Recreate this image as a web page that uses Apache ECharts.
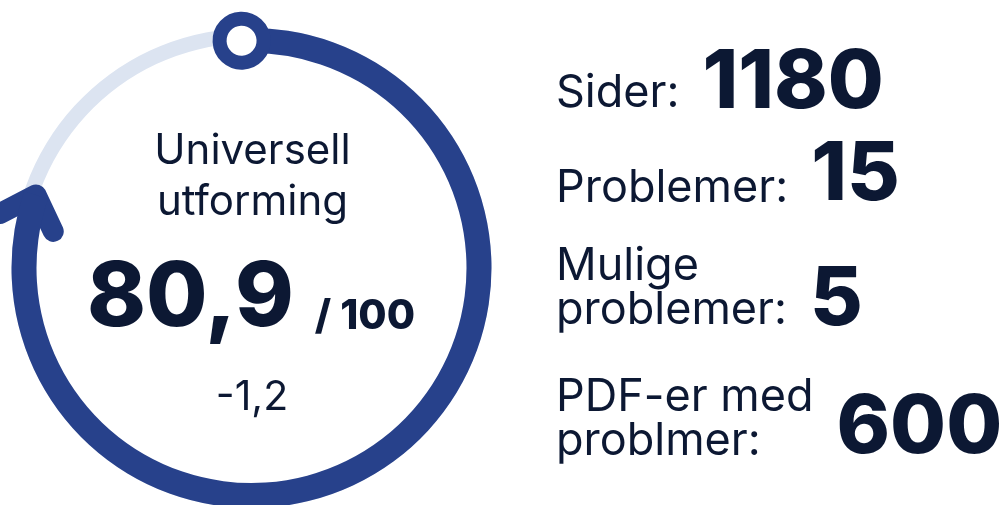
<!DOCTYPE html>
<html><head><meta charset="utf-8">
<script src="https://cdn.jsdelivr.net/npm/echarts@6/dist/echarts.min.js"></script>
<style>html,body{margin:0;padding:0;background:#fff}#c{width:1002px;height:505px}</style>
</head><body><div id="c"></div>
<script>
// ---- data ----
const scoreTitle = ['Universell', 'utforming'];
const scoreValue = [80.9];
const scoreMin = [0];
const scoreMax = [100];
const scoreChange = [-1.2];
const statLabels = ['Sider:', 'Problemer:', 'Mulige\nproblemer:', 'PDF-er med\nproblmer:'];
const statValues = [1180, 15, 5, 600];

// ---- layout / style ----
const DARK = '#27418b', LIGHT = '#dce4f1', INK = '#0c1833';
const FONT = 'Inter';
const MID = 0.364; // canvas 'middle' offset above baseline (em)
const ringCenter = [251.5, 268], ringRadius = 240, bandMid = 227.5;
const rowLastBaseline = [110, 205, 327, 458];
const rowValueBaseline = [113, 205, 330, 458];
const labelX = 556, labelSize = 45, labelLH = 44, valueSize = 81, valueGap = 23;

const fmt = v => String(v).replace('.', ',');
const ctx = document.createElement('canvas').getContext('2d');
function tw(str, size, weight) {
  ctx.font = weight + ' ' + size + 'px ' + FONT;
  return Math.max(...String(str).split('\n').map(s => ctx.measureText(s).width));
}
function yFor(baseline, size, lh) { return baseline - MID * size + lh / 2; }

const graphics = [];
// centre texts
graphics.push({type: 'text', x: 252.5, y: yFor(218, 42, 51), style: {
  text: scoreTitle.join('\n'), fontFamily: FONT, fontSize: 42, fontWeight: 400, lineHeight: 51,
  fill: INK, align: 'center', verticalAlign: 'bottom'}});
const bigTxt = fmt(scoreValue[0]), maxTxt = '/ ' + fmt(scoreMax[0]);
const bigSize = 89;
const wBig = tw(bigTxt, bigSize, 800), wMax = tw(maxTxt, 41, 800), gap = 21;
const x0 = 251 - (wBig + gap + wMax) / 2;
graphics.push({type: 'text', x: x0, y: yFor(332, bigSize, 100), style: {
  text: bigTxt, fontFamily: FONT, fontSize: bigSize, fontWeight: 800, lineHeight: 100,
  fill: INK, align: 'left', verticalAlign: 'bottom'}});
graphics.push({type: 'text', x: x0 + wBig + gap, y: yFor(332, 41, 46), style: {
  text: maxTxt, fontFamily: FONT, fontSize: 41, fontWeight: 800, lineHeight: 46,
  fill: INK, align: 'left', verticalAlign: 'bottom'}});
graphics.push({type: 'text', x: 252, y: yFor(413, 41, 46), style: {
  text: fmt(scoreChange[0]), fontFamily: FONT, fontSize: 41, fontWeight: 400, lineHeight: 46,
  fill: INK, align: 'center', verticalAlign: 'bottom'}});
// right stats
statLabels.forEach((lab, i) => {
  graphics.push({type: 'text', x: labelX, y: yFor(rowLastBaseline[i], labelSize, labelLH), style: {
    text: lab, fontFamily: FONT, fontSize: labelSize, fontWeight: 400, lineHeight: labelLH,
    fill: INK, align: 'left', verticalAlign: 'bottom'}});
  const vx = labelX + tw(lab, labelSize, 400) + valueGap;
  graphics.push({type: 'text', x: vx, y: yFor(rowValueBaseline[i], valueSize, 90), style: {
    text: String(statValues[i]), fontFamily: FONT, fontSize: valueSize, fontWeight: 800, lineHeight: 90,
    fill: INK, align: 'left', verticalAlign: 'bottom'}});
});

const common = {
  type: 'gauge', center: ringCenter, radius: ringRadius,
  startAngle: 92.5, endAngle: -267.5, clockwise: true,
  min: scoreMin[0], max: scoreMax[0],
  splitLine: {show: false}, axisTick: {show: false}, axisLabel: {show: false},
  anchor: {show: false}, title: {show: false}, detail: {show: false}
};

const chart = echarts.init(document.getElementById('c'), null, {renderer: 'canvas'});
chart.setOption({
  animation: false,
  series: [
    Object.assign({}, common, {
      z: 2,
      axisLine: {lineStyle: {width: 15, color: [[1, LIGHT]]}},
      progress: {show: true, width: 25, itemStyle: {color: DARK}},
      pointer: {
        show: true, icon: 'path://M-29,-28 L0,0 L-29,28',
        width: 29, length: 56, offsetCenter: [-14.5, -(bandMid - 28)],
        itemStyle: {color: 'none', borderColor: DARK, borderWidth: 21, borderCap: 'round', borderJoin: 'round'}
      },
      data: [{value: scoreValue[0]}]
    }),
    Object.assign({}, common, {
      z: 6,
      axisLine: {show: false},
      progress: {show: false},
      pointer: {
        show: true, icon: 'circle', width: 44, length: 44, offsetCenter: [0, -(bandMid - 22)],
        itemStyle: {color: '#ffffff', borderColor: DARK, borderWidth: 14}
      },
      data: [{value: scoreMin[0]}]
    })
  ],
  graphic: graphics
});
</script></body></html>
